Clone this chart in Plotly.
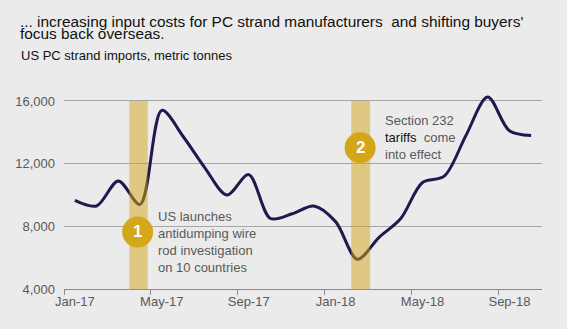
import plotly.graph_objects as go

months = ["Jan-17","Feb-17","Mar-17","Apr-17","May-17","Jun-17","Jul-17","Aug-17","Sep-17","Oct-17","Nov-17","Dec-17",
          "Jan-18","Feb-18","Mar-18","Apr-18","May-18","Jun-18","Jul-18","Aug-18","Sep-18","Oct-18"]
imports = [9650, 9300, 10900, 9400, 15400, 13700, 11700, 10000, 11300, 8500, 8800, 9300,
           8300, 5900, 7300, 8500, 10800, 11200, 13800, 16250, 14100, 13800]
tick_labels = ["Jan-17", "May-17", "Sep-17", "Jan-18", "May-18", "Sep-18"]
tick_pos = [0, 4, 8, 12, 16, 20]
events = [(2.5, 3.35, "1"), (12.72, 13.59, "2")]
title_lines = ["... increasing input costs for PC strand manufacturers  and shifting buyers'",
               "focus back overseas."]

FONT = "Arial, Liberation Sans, sans-serif"
GOLD = "#D4A619"
x = list(range(len(months)))

fig = go.Figure()
fig.add_trace(go.Scatter(x=x, y=imports, mode="lines",
                         line=dict(color="#1F1A4D", width=3, shape="spline", smoothing=0.9),
                         hoverinfo="skip", showlegend=False))

shapes = []
for x0, x1, lab in events:
    shapes.append(dict(type="rect", xref="x", yref="y", x0=x0, x1=x1, y0=4000, y1=16000,
                       fillcolor="rgba(212,166,25,0.5)", line=dict(width=0), layer="above"))

circ = [(2.89, 7640, "1"), (13.13, 13020, "2")]
for cx, cy, lab in circ:
    shapes.append(dict(type="circle", xref="x", yref="y", xsizemode="pixel", ysizemode="pixel",
                       xanchor=cx, yanchor=cy, x0=-15.5, x1=15.5, y0=-15.5, y1=15.5,
                       fillcolor=GOLD, line=dict(width=0), layer="above"))

annotations = []
for cx, cy, lab in circ:
    annotations.append(dict(x=cx, y=cy, xref="x", yref="y", text="<b>" + lab + "</b>", showarrow=False,
                            font=dict(family=FONT, size=17, color="white"), xanchor="center", yanchor="middle"))

annotations.append(dict(x=3.74, y=6980, xref="x", yref="y", showarrow=False, xanchor="left", yanchor="middle",
                        align="left",
                        text="US launches<br>antidumping wire<br>rod investigation<br>on 10 countries",
                        font=dict(family=FONT, size=13, color="#595959")))
annotations.append(dict(x=14.16, y=13700, xref="x", yref="y", showarrow=False, xanchor="left", yanchor="middle",
                        align="left",
                        text="Section 232<br><span style='color:#111111'>tariffs</span>  come<br>into effect",
                        font=dict(family=FONT, size=13, color="#595959")))

# title (two lines, tight leading)
for i, line in enumerate(title_lines):
    top_px = 10.5 + i * 12.7
    annotations.append(dict(x=(18 - 64) / 478, y=1 + (90 - top_px) / 199, xref="paper", yref="paper",
                            showarrow=False, xanchor="left", yanchor="top", align="left", text=line,
                            font=dict(family=FONT, size=15.4, color="#111111")))
# subtitle
annotations.append(dict(x=(19 - 64) / 478, y=1 + (90 - 55) / 199, xref="paper", yref="paper", showarrow=False,
                        xanchor="left", yanchor="middle", text="US PC strand imports, metric tonnes",
                        font=dict(family=FONT, size=13, color="#111111")))

fig.update_layout(
    width=567, height=329,
    margin=dict(l=64, r=25, t=90, b=40),
    paper_bgcolor="#EBEBEB", plot_bgcolor="#EBEBEB",
    shapes=shapes, annotations=annotations,
    xaxis=dict(range=[-0.5, 21.5], tickvals=tick_pos, ticktext=tick_labels, ticks="", showgrid=False,
               showline=True, linecolor="#8C8C8C", linewidth=1, zeroline=False,
               tickfont=dict(family=FONT, size=13, color="#595959"),
               minor=dict(tickvals=[-0.5 + 4 * k for k in range(6)], ticks="outside", ticklen=5,
                          tickcolor="#8C8C8C", showgrid=False)),
    yaxis=dict(range=[4000, 16700], tickvals=[4000, 8000, 12000, 16000], tickformat=",",
               showgrid=True, gridcolor="#A6A6A6", gridwidth=1, zeroline=False, showline=False,
               ticks="", ticklabelstandoff=8,
               tickfont=dict(family=FONT, size=13, color="#595959")),
)

fig.write_html("out.html")
